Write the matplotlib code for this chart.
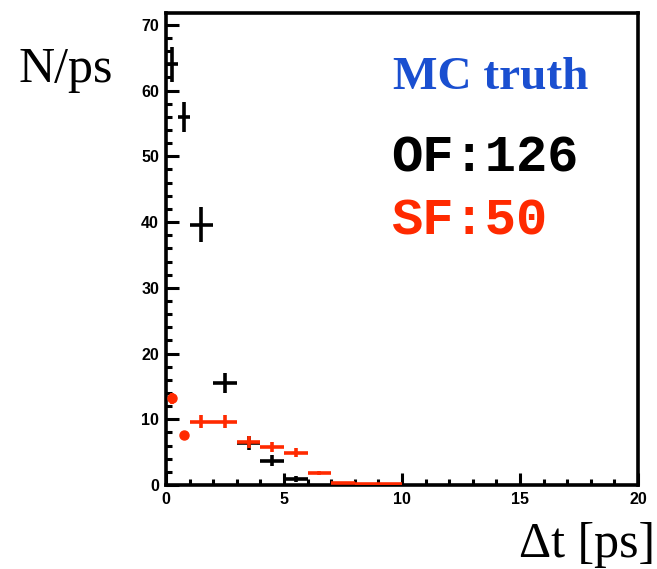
import matplotlib
matplotlib.use("Agg")
import matplotlib.pyplot as plt
from matplotlib.ticker import MultipleLocator

# OF (opposite flavour) points, black
of_x = [0.25, 0.75, 1.5, 2.5, 3.5, 4.5, 5.5]
of_xerr = [0.25, 0.25, 0.5, 0.5, 0.5, 0.5, 0.5]
of_y = [64, 56, 39.6, 15.5, 6.4, 3.7, 0.9]
of_yerr = [2.7, 2.3, 2.7, 1.5, 1.0, 0.8, 0.4]

# SF (same flavour) points, red
sf_x = [0.25, 0.75, 1.5, 2.5, 3.5, 4.5, 5.5, 6.5, 7.5, 8.5, 9.5]
sf_xerr = [0.1, 0.1, 0.5, 0.5, 0.5, 0.5, 0.5, 0.5, 0.5, 0.5, 0.5]
sf_y = [13.2, 7.6, 9.6, 9.6, 6.5, 5.8, 4.9, 1.8, 0.3, 0.2, 0.2]
sf_yerr = [0.8, 0.4, 1.0, 1.0, 0.9, 0.8, 0.7, 0.3, 0.1, 0.1, 0.1]

fig = plt.figure(figsize=(6.57, 5.69), dpi=100)
ax = fig.add_axes([0.2527, 0.1476, 0.7183, 0.8295])

ax.errorbar(of_x, of_y, xerr=of_xerr, yerr=of_yerr, fmt="none",
            ecolor="black", elinewidth=2.6, capsize=0, zorder=3)
ax.errorbar(sf_x, sf_y, xerr=sf_xerr, yerr=sf_yerr, fmt="none",
            ecolor="#ff2a00", elinewidth=2.6, capsize=0, zorder=4)
ax.plot(sf_x[:2], sf_y[:2], "o", color="#ff2a00", markersize=6.5, zorder=4)

ax.set_xlim(0, 20)
ax.set_ylim(0, 71.8)
ax.xaxis.set_major_locator(MultipleLocator(5))
ax.xaxis.set_minor_locator(MultipleLocator(1))
ax.yaxis.set_major_locator(MultipleLocator(10))
ax.yaxis.set_minor_locator(MultipleLocator(2))
ax.tick_params(which="both", direction="in", top=False, right=False, width=2.2)
ax.tick_params(which="major", length=9, labelsize=11.5, pad=5)
ax.tick_params(which="minor", length=4.5)
for lab in ax.get_xticklabels() + ax.get_yticklabels():
    lab.set_fontweight("heavy")
    lab.set_family("Liberation Sans")
for sp in ax.spines.values():
    sp.set_linewidth(2.6)

fig.text(18 / 657, 1 - 70 / 569, "N/ps", family="Liberation Serif", fontsize=36,
         va="center", ha="left")
fig.text(655 / 657, 1 - 545 / 569, "\u0394t [ps]", family="Liberation Serif", fontsize=36,
         va="center", ha="right")

ax.text(393 / 657, 1 - 78 / 569, "MC truth", transform=fig.transFigure,
        family="Liberation Serif", fontweight="bold", fontsize=34, color="#1a4fd0",
        va="center", ha="left")
ax.text(391 / 657, 1 - 158 / 569, "OF:126", transform=fig.transFigure,
        family="Liberation Mono", fontweight="bold", fontsize=37.5, color="black",
        va="center", ha="left")
ax.text(391 / 657, 1 - 221 / 569, "SF:50", transform=fig.transFigure,
        family="Liberation Mono", fontweight="bold", fontsize=37.5, color="#ff2a00",
        va="center", ha="left")

fig.savefig("out.png", dpi=100)
